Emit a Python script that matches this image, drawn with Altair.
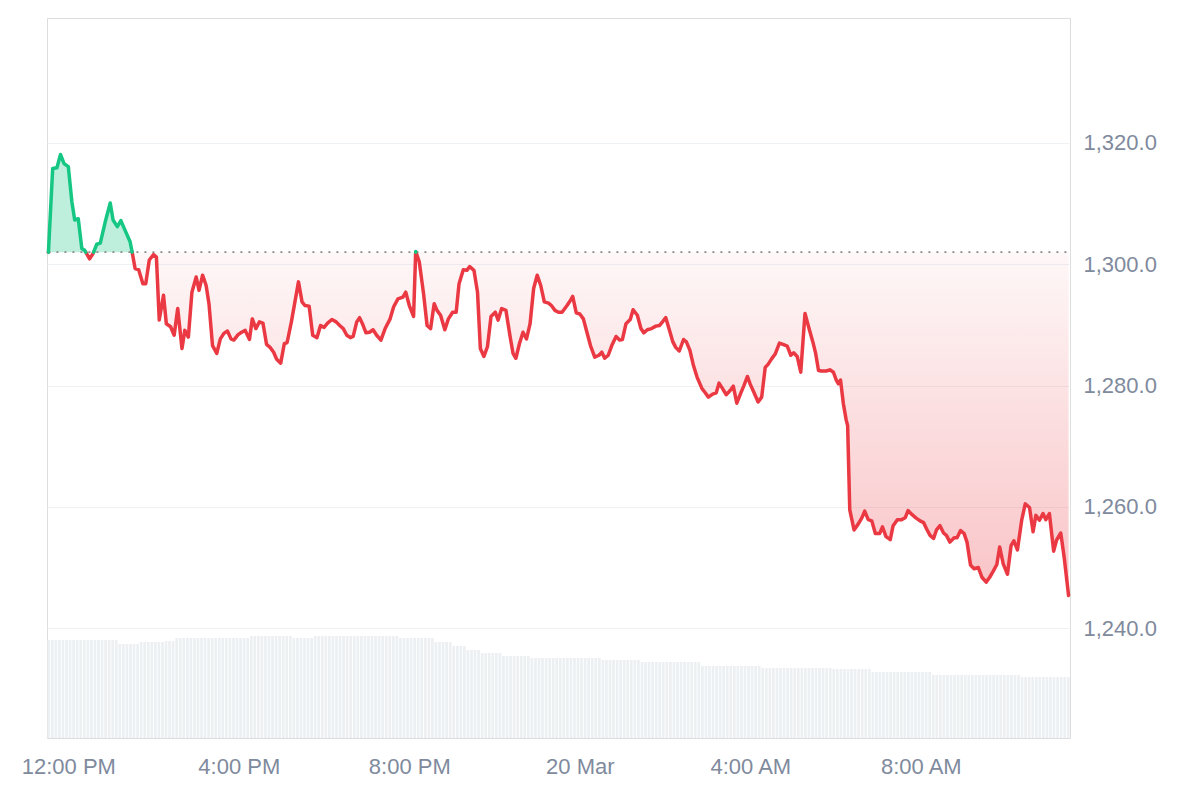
import altair as alt
import pandas as pd
import numpy as np

START = "2024-03-19 11:30:00"
BASELINE = 1302.0

# minutes after 11:30 AM (19 Mar) and price
minutes = [
    2, 8, 14, 19, 24, 30, 35, 39, 44, 49,
    53, 60, 65, 70, 75, 82, 89, 93, 99, 104,
    111, 117, 120, 124, 129, 135, 139, 144, 150, 154,
    158, 164, 168, 174, 179, 184, 190, 194, 199, 204,
    210, 214, 219, 224, 228, 233, 239, 244, 249, 254,
    259, 263, 269, 274, 279, 285, 289, 294, 299, 304,
    309, 314, 319, 323, 329, 334, 338, 344, 349, 354,
    359, 363, 369, 374, 380, 385, 390, 395, 401, 407,
    412, 417, 422, 427, 431, 436, 440, 444, 449, 454,
    459, 464, 470, 476, 483, 488, 494, 501, 505, 510,
    516, 519, 524, 530, 535, 540, 545, 549, 554, 560,
    565, 571, 576, 580, 586, 591, 595, 601, 606, 610,
    615, 620, 625, 631, 635, 640, 646, 652, 656, 660,
    665, 670, 675, 680, 685, 690, 695, 700, 706, 710,
    715, 720, 725, 732, 736, 740, 745, 750, 755, 760,
    765, 771, 777, 781, 785, 790, 795, 801, 806, 810,
    815, 821, 825, 831, 836, 840, 845, 851, 857, 862,
    867, 871, 876, 881, 885, 890, 896, 900, 905, 910,
    915, 922, 926, 931, 937, 942, 946, 951, 956, 961,
    966, 971, 976, 981, 986, 990, 995, 1001, 1006, 1011,
    1015, 1020, 1025, 1031, 1036, 1042, 1047, 1051, 1056, 1061,
    1067, 1072, 1078, 1082, 1086, 1090, 1097, 1102, 1107, 1111,
    1114, 1117, 1121, 1125, 1127, 1130, 1136, 1142, 1147, 1151,
    1156, 1161, 1166, 1172, 1176, 1181, 1187, 1191, 1197, 1203,
    1208, 1212, 1217, 1223, 1229, 1234, 1238, 1243, 1248, 1252,
    1257, 1262, 1266, 1271, 1277, 1281, 1286, 1291, 1295, 1300,
    1305, 1311, 1316, 1322, 1327, 1332, 1337, 1341, 1346, 1352,
    1357, 1361, 1366, 1372, 1377, 1383, 1388, 1392, 1397, 1402,
    1406, 1411, 1417, 1421, 1427, 1432, 1438,
]

prices = [
    1302.0, 1315.8, 1315.9, 1318.1, 1316.6, 1316.1, 1310.3, 1307.3, 1307.5, 1302.6,
    1302.3, 1300.9, 1301.8, 1303.3, 1303.5, 1307.0, 1310.1, 1307.3, 1306.2, 1307.2,
    1305.3, 1303.7, 1301.9, 1299.3, 1299.1, 1296.8, 1296.8, 1300.7, 1301.6, 1301.2,
    1290.8, 1294.9, 1290.2, 1289.7, 1288.3, 1292.7, 1286.1, 1289.1, 1288.0, 1295.4,
    1297.9, 1295.7, 1298.2, 1296.5, 1293.5, 1286.6, 1285.3, 1287.7, 1288.6, 1289.0,
    1287.7, 1287.5, 1288.4, 1288.8, 1289.1, 1287.6, 1291.0, 1289.4, 1290.5, 1290.3,
    1286.8, 1286.3, 1285.5, 1284.4, 1283.7, 1286.9, 1287.1, 1290.5, 1293.8, 1297.1,
    1293.8, 1293.2, 1293.1, 1288.3, 1287.9, 1289.9, 1289.6, 1290.3, 1290.9, 1290.5,
    1289.9, 1289.4, 1288.3, 1287.9, 1288.1, 1290.5, 1291.2, 1290.2, 1288.7, 1288.8,
    1289.2, 1288.3, 1287.5, 1289.4, 1291.0, 1293.0, 1294.3, 1294.6, 1295.4, 1293.2,
    1291.4, 1302.1, 1300.4, 1295.2, 1289.9, 1289.4, 1293.5, 1292.4, 1291.6, 1289.2,
    1291.0, 1292.1, 1292.1, 1296.8, 1299.1, 1299.0, 1299.6, 1299.0, 1295.4, 1286.1,
    1284.8, 1286.4, 1291.4, 1292.1, 1290.8, 1292.7, 1292.4, 1288.0, 1285.3, 1284.5,
    1286.9, 1288.8, 1287.7, 1290.2, 1296.0, 1298.2, 1296.5, 1293.8, 1293.6, 1293.2,
    1292.4, 1292.1, 1292.1, 1293.2, 1293.9, 1294.7, 1292.0, 1291.8, 1291.0, 1288.8,
    1286.6, 1284.7, 1285.0, 1285.5, 1284.5, 1285.0, 1286.6, 1288.1, 1287.5, 1287.6,
    1290.2, 1290.9, 1292.5, 1291.6, 1289.4, 1288.7, 1289.2, 1289.4, 1289.8, 1289.9,
    1290.6, 1291.2, 1289.2, 1287.2, 1286.3, 1285.7, 1287.6, 1287.2, 1285.8, 1283.3,
    1281.4, 1279.5, 1278.9, 1278.1, 1278.6, 1278.8, 1280.4, 1279.5, 1278.5, 1279.1,
    1279.9, 1277.1, 1278.6, 1280.0, 1281.5, 1280.2, 1278.9, 1277.3, 1278.1, 1283.0,
    1283.5, 1284.4, 1285.2, 1287.0, 1286.8, 1286.5, 1285.0, 1285.4, 1284.8, 1282.2,
    1291.9, 1289.7, 1287.2, 1285.3, 1282.5, 1282.4, 1282.4, 1282.6, 1282.2, 1280.9,
    1280.3, 1280.9, 1277.0, 1274.3, 1273.4, 1259.5, 1256.2, 1257.2, 1258.2, 1259.3,
    1257.9, 1257.7, 1255.6, 1255.6, 1256.7, 1255.1, 1254.6, 1256.9, 1257.9, 1257.9,
    1258.2, 1259.4, 1258.8, 1258.2, 1257.7, 1257.4, 1256.4, 1255.3, 1254.8, 1256.2,
    1256.9, 1255.7, 1255.3, 1254.2, 1254.9, 1254.9, 1256.1, 1255.6, 1254.2, 1250.4,
    1249.8, 1250.0, 1248.4, 1247.6, 1248.4, 1249.4, 1250.5, 1253.4, 1250.6, 1248.9,
    1253.6, 1254.4, 1252.9, 1257.8, 1260.5, 1259.9, 1255.9, 1258.6, 1257.8, 1258.9,
    1257.9, 1258.9, 1252.7, 1254.5, 1255.7, 1251.5, 1245.4,
]

# volume, one bar per 5 minutes (relative units), one row per hour
volume = [
    98, 98, 98, 98, 98, 98, 98, 98, 98, 98, 98, 98,
    98, 98, 98, 98, 98, 98, 98, 98, 94, 94, 94, 94,
    94, 94, 96, 96, 96, 96, 96, 96, 96, 97, 97, 97,
    100, 100, 100, 100, 100, 100, 100, 100, 100, 100, 100, 100,
    100, 100, 100, 100, 100, 100, 100, 100, 100, 102, 102, 102,
    102, 102, 102, 102, 102, 102, 102, 102, 102, 100, 100, 100,
    100, 100, 100, 102, 102, 102, 102, 102, 102, 102, 102, 102,
    102, 102, 102, 102, 102, 102, 102, 102, 102, 102, 102, 102,
    102, 102, 102, 100, 100, 100, 100, 100, 100, 100, 100, 100,
    100, 96, 96, 96, 96, 96, 92, 92, 92, 92, 88, 88,
    88, 88, 85, 85, 85, 85, 85, 85, 82, 82, 82, 82,
    82, 82, 82, 82, 80, 80, 80, 80, 80, 80, 80, 80,
    80, 80, 80, 80, 80, 80, 80, 80, 80, 80, 80, 80,
    78, 78, 78, 78, 78, 78, 78, 78, 78, 78, 78, 76,
    76, 76, 76, 76, 76, 76, 76, 76, 76, 76, 76, 76,
    76, 76, 76, 76, 72, 72, 72, 72, 72, 72, 72, 72,
    72, 72, 72, 72, 72, 72, 72, 72, 72, 70, 70, 70,
    70, 70, 70, 70, 70, 70, 70, 70, 70, 70, 70, 70,
    70, 70, 70, 70, 70, 69, 69, 69, 69, 69, 69, 69,
    69, 69, 69, 69, 66, 66, 66, 66, 66, 66, 66, 66,
    66, 66, 66, 66, 66, 66, 66, 66, 66, 63, 63, 63,
    63, 63, 63, 63, 63, 63, 63, 63, 63, 63, 63, 63,
    63, 63, 63, 63, 63, 63, 63, 63, 63, 63, 61, 61,
    61, 61, 61, 61, 61, 61, 61, 61, 61, 61, 61, 61,
]

Y_TICKS = [1240, 1260, 1280, 1300, 1320]
X_TICKS = [(19, 12), (19, 16), (19, 20), (20, 0), (20, 4), (20, 8)]

assert len(minutes) == len(prices)

start = pd.Timestamp(START)


def iso(ts):
    return ts.strftime("%Y-%m-%dT%H:%M:%S.") + f"{ts.microsecond // 1000:03d}"


times = [start + pd.Timedelta(minutes=m) for m in minutes]

# insert baseline crossings so colours switch exactly at the reference line
rows = []
for i in range(len(prices)):
    rows.append((times[i], prices[i]))
    if i < len(prices) - 1:
        a = prices[i] - BASELINE
        b = prices[i + 1] - BASELINE
        if a * b < 0:
            f = a / (a - b)
            rows.append((times[i] + (times[i + 1] - times[i]) * f, BASELINE))

df = pd.DataFrame(rows, columns=["ts", "price"])
df["t"] = [iso(x) for x in df["ts"]]
df["up"] = np.maximum(df["price"], BASELINE)
df["dn"] = np.minimum(df["price"], BASELINE)
df["base"] = BASELINE
df = df.drop(columns=["ts"])


def segments(cond):
    out = []
    seg = 0
    prev = False
    for tt, pp in zip(df["t"], df["price"]):
        inside = cond(pp)
        if inside:
            if not prev:
                seg += 1
            out.append({"t": tt, "price": pp, "seg": seg})
        prev = inside
    return pd.DataFrame(out)


green_df = segments(lambda p: p >= BASELINE)
red_df = segments(lambda p: p <= BASELINE)

vol_df = pd.DataFrame({
    "vt": [iso(start + pd.Timedelta(minutes=5 * i + 2.5)) for i in range(len(volume))],
    "vol": volume,
})

base_df = pd.DataFrame({"t0": [df["t"].iloc[0]], "t1": [df["t"].iloc[-1]], "base": [BASELINE]})

FONT = "Liberation Sans"
LABEL_COLOR = "#808a9d"
GREEN = "#16c784"
RED = "#ea3943"

x_domain = [alt.DateTime(year=2024, month=3, date=19, hours=11, minutes=30),
            alt.DateTime(year=2024, month=3, date=20, hours=11, minutes=30)]
x_values = [alt.DateTime(year=2024, month=3, date=d, hours=h) for d, h in X_TICKS]


def xenc(field):
    return alt.X(
        f"{field}:T",
        scale=alt.Scale(domain=x_domain, padding=0, nice=False),
        axis=alt.Axis(
            values=x_values,
            labelExpr="hours(datum.value) == 0 ? timeFormat(datum.value, '%-d %b') : timeFormat(datum.value, '%-I:%M %p')",
            title=None, grid=False, domain=False, ticks=False,
            labelPadding=18, labelFontSize=22, labelColor=LABEL_COLOR, labelFont=FONT,
            labelFlush=False, labelOverlap=False,
        ),
    )


y_scale = alt.Scale(domain=[1221.9, 1340.6], nice=False, zero=False)
y_axis = alt.Axis(
    orient="right", values=Y_TICKS, format=",.1f", title=None,
    grid=True, gridColor="#eff2f5", gridWidth=1,
    domain=False, ticks=False, labelPadding=13,
    labelFontSize=22, labelColor=LABEL_COLOR, labelFont=FONT,
)

vol_layer = alt.Chart(vol_df).mark_bar(color="#ecf0f3", size=2.7).encode(
    x=xenc("vt"),
    y=alt.Y("vol:Q", scale=alt.Scale(domain=[0, 720], nice=False), axis=None),
)

red_area = alt.Chart(df).mark_area(
    color=alt.Gradient(
        gradient="linear",
        stops=[alt.GradientStop(color="rgba(234,57,67,0.04)", offset=0),
               alt.GradientStop(color="rgba(234,57,67,0.30)", offset=1)],
        x1=0, x2=0, y1=0, y2=1,
    )
).encode(x=xenc("t"), y=alt.Y("dn:Q", scale=y_scale, axis=y_axis), y2="base:Q")

green_area = alt.Chart(df).mark_area(color="rgba(22,199,132,0.28)").encode(
    x=xenc("t"), y=alt.Y("up:Q", scale=y_scale, axis=y_axis), y2="base:Q"
)

base_rule = alt.Chart(base_df).mark_rule(color="#8a8a8a", strokeDash=[2, 6], strokeWidth=1.8).encode(
    x=xenc("t0"), x2="t1:T", y=alt.Y("base:Q", scale=y_scale, axis=y_axis)
)

red_line = alt.Chart(red_df).mark_line(color=RED, strokeWidth=3.5, strokeJoin="round", strokeCap="round").encode(
    x=xenc("t"), y=alt.Y("price:Q", scale=y_scale, axis=y_axis), detail="seg:N"
)

green_line = alt.Chart(green_df).mark_line(color=GREEN, strokeWidth=3.5, strokeJoin="round", strokeCap="round").encode(
    x=xenc("t"), y=alt.Y("price:Q", scale=y_scale, axis=y_axis), detail="seg:N"
)

price_layers = alt.layer(red_area, green_area, base_rule, red_line, green_line)

chart = alt.layer(vol_layer, price_layers).resolve_scale(y="independent").properties(
    width=1023,
    height=720,
    padding={"left": 39, "top": 10, "right": 122, "bottom": 54},
    autosize=alt.AutoSizeParams(type="none"),
).configure_view(stroke="#e6e8eb", strokeWidth=1).configure(background="white")

chart.save("out.html", embed_options={"renderer": "svg", "actions": False})
